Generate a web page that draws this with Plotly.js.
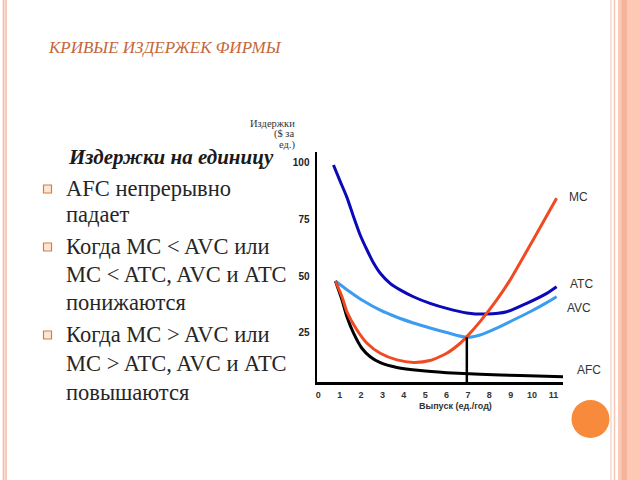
<!DOCTYPE html>
<html>
<head>
<meta charset="utf-8">
<script src="https://cdn.plot.ly/plotly-3.0.1.min.js"></script>
<style>html,body{margin:0;padding:0;background:#fff;}#chart{width:640px;height:480px;}</style>
</head>
<body>
<div id="chart"></div>
<script>
// ---- data ----
const atcX = [0.71, 1.03, 1.34, 1.65, 1.96, 2.28, 2.58, 2.90, 3.36, 3.83, 4.45, 5.23, 6.01, 6.95, 7.88, 8.82, 9.75, 10.69, 11.15];
const atcY = [98.7, 91.4, 84.5, 76.0, 68.0, 61.4, 55.8, 51.2, 46.8, 43.9, 40.9, 38.0, 35.8, 33.8, 33.3, 34.3, 38.0, 42.4, 45.3];

const avcX = [0.8, 1.34, 2.12, 2.90, 3.68, 4.45, 5.23, 6.01, 6.95, 7.57, 8.35, 9.13, 9.91, 10.69, 11.15];
const avcY = [47.8, 44.0, 39.0, 35.0, 31.9, 29.4, 27.2, 25.2, 23.1, 24.1, 27.1, 30.7, 34.3, 38.3, 40.9];

const mcX = [0.8, 1.11, 1.34, 1.81, 2.28, 2.90, 3.68, 4.45, 5.23, 6.01, 6.64, 6.95, 7.57, 8.35, 8.97, 10.05, 11.15];
const mcY = [47.8, 40.9, 34.3, 26.3, 20.5, 16.1, 13.2, 12.1, 12.9, 16.1, 20.5, 23.4, 30.0, 39.5, 48.2, 65.8, 84.1];

const afcX = [0.8, 1.11, 1.34, 1.65, 2.04, 2.43, 2.90, 3.68, 4.77, 6.01, 7.57, 9.44, 11.46];
const afcY = [47.8, 39.5, 32.1, 24.9, 18.3, 14.6, 12.0, 9.9, 8.5, 7.6, 6.9, 6.3, 5.8];

const dropX = [6.95, 6.95];
const dropY = [23.1, 3.5];

const xTickVals = [0, 1, 2, 3, 4, 5, 6, 7, 8, 9, 10, 11];
const xTickText = ['0', '1', '2', '3', '4', '5', '6', '7', '8', '9', '10', '11'];
const yTickVals = [25, 50, 75, 100];
const yTickText = ['25', '50', '75', '100'];

const seriesNames = ['MC', 'ATC', 'AVC', 'AFC'];

const slideTitle = 'КРИВЫЕ ИЗДЕРЖЕК ФИРМЫ';
const heading = 'Издержки на единицу';
const bulletLines = [
  ['AFC непрерывно', 'падает'],
  ['Когда MC &lt; AVC или', 'MC &lt; ATC, AVC и ATC', 'понижаются'],
  ['Когда MC &gt; AVC или', 'MC &gt; ATC, AVC и ATC', 'повышаются']
];
const yTitleLines = ['Издержки', '($ за', 'ед.)'];
const xTitle = 'Выпуск (ед./год)';

// ---- layout helpers (pixel -> paper) ----
const L = 317, R = 563, T = 152, B = 382;
const px = p => (p - L) / (R - L);
const py = p => (B - p) / (B - T);
const SERIF = '"Liberation Serif", "Times New Roman", "DejaVu Serif", serif';
const SANS = '"Liberation Sans", Arial, sans-serif';

const lineW = 3;
const sp = {shape: 'spline', smoothing: 0.6};
const traces = [
  {x: atcX, y: atcY, mode: 'lines', line: Object.assign({color: '#0a0ab8', width: lineW}, sp), hoverinfo: 'skip'},
  {x: avcX, y: avcY, mode: 'lines', line: Object.assign({color: '#3b9cf0', width: lineW}, sp), hoverinfo: 'skip'},
  {x: afcX, y: afcY, mode: 'lines', line: Object.assign({color: '#000000', width: lineW}, sp), hoverinfo: 'skip'},
  {x: mcX, y: mcY, mode: 'lines', line: Object.assign({color: '#f04a22', width: lineW}, sp), hoverinfo: 'skip'},
  {x: dropX, y: dropY, mode: 'lines', line: {color: '#000000', width: 2.5}, hoverinfo: 'skip'}
];

const annotations = [];
function addText(text, x, y, opts) {
  annotations.push(Object.assign({
    text: text, x: px(x), y: py(y), xref: 'paper', yref: 'paper',
    showarrow: false, xanchor: 'left', yanchor: 'middle'
  }, opts));
}

addText('<i>' + slideTitle + '</i>', 46, 48, {font: {family: SERIF, size: 17, color: '#c4683a'}});
addText('<b><i>' + heading + '</i></b>', 171, 157, {xanchor: 'center', font: {family: SERIF, size: 21, color: '#1a1a1a'}});

const lineYs = [[188, 214], [246, 274, 302], [334, 363, 392]];
const bulletRects = [];
bulletLines.forEach((grp, gi) => {
  grp.forEach((t, li) => {
    addText(t, 64, lineYs[gi][li], {font: {family: SERIF, size: 22.5, color: '#262626'}});
  });
  const cy = lineYs[gi][0] + 1;
  bulletRects.push({type: 'rect', xref: 'paper', yref: 'paper', x0: px(43.5), x1: px(51.5), y0: py(cy + 4), y1: py(cy - 4),
    line: {color: '#e07b39', width: 1.2}, fillcolor: '#fde6d4'});
});

yTitleLines.forEach((t, i) => {
  addText(t, 297, [123, 134, 145][i], {xanchor: 'right', font: {family: SERIF, size: 10.5, color: '#333'}});
});
addText(xTitle, 455, 406, {xanchor: 'center', font: {family: SANS, size: 9, color: '#333', weight: 'bold'}});

const labelPos = [[567, 197], [568, 284], [565, 308], [575, 370]];
seriesNames.forEach((n, i) => {
  addText(n, labelPos[i][0], labelPos[i][1], {font: {family: SANS, size: 12, color: '#333'}});
});

const shapes = [
  // left slide border
  {type: 'rect', xref: 'paper', yref: 'paper', x0: px(2.5), x1: px(7), y0: py(480), y1: py(0), line: {width: 0}, fillcolor: '#fce4da'},
  {type: 'line', xref: 'paper', yref: 'paper', x0: px(3.5), x1: px(3.5), y0: py(480), y1: py(0), line: {color: '#f5bba6', width: 1.2}},
  {type: 'line', xref: 'paper', yref: 'paper', x0: px(6), x1: px(6), y0: py(480), y1: py(0), line: {color: '#f5bba6', width: 1.2}},
  // right slide border
  {type: 'line', xref: 'paper', yref: 'paper', x0: px(611), x1: px(611), y0: py(480), y1: py(0), line: {color: '#f8d6ca', width: 1.5}},
  {type: 'line', xref: 'paper', yref: 'paper', x0: px(614.5), x1: px(614.5), y0: py(480), y1: py(0), line: {color: '#f5c6b5', width: 1.5}},
  {type: 'rect', xref: 'paper', yref: 'paper', x0: px(618), x1: px(641), y0: py(480), y1: py(0), line: {width: 0}, fillcolor: '#fdc9b5'},
  {type: 'rect', xref: 'paper', yref: 'paper', x0: px(621.5), x1: px(627), y0: py(480), y1: py(0), line: {width: 0}, fillcolor: '#f4b49b'},
  // orange circle
  {type: 'circle', xref: 'paper', yref: 'paper', x0: px(571.5), x1: px(609.5), y0: py(438), y1: py(400), line: {width: 0}, fillcolor: '#f78a3b'}
].concat(bulletRects);

const layout = {
  width: 640, height: 480,
  margin: {l: L, r: 640 - R, t: T, b: 480 - B, pad: 0},
  paper_bgcolor: '#ffffff', plot_bgcolor: '#ffffff',
  showlegend: false,
  xaxis: {
    range: [-0.06, 11.45], showgrid: false, zeroline: false,
    showline: true, linecolor: '#000', linewidth: 2.5,
    tickvals: xTickVals, ticktext: xTickText, ticks: '',
    tickfont: {family: SANS, size: 9, color: '#333', weight: 'bold'},
    ticklabelstandoff: 3, fixedrange: true
  },
  yaxis: {
    range: [3.5, 104.4], showgrid: false, zeroline: false,
    showline: true, linecolor: '#000', linewidth: 2.5,
    tickvals: yTickVals, ticktext: yTickText, ticks: '',
    tickfont: {family: SANS, size: 10, color: '#222', weight: 'bold'},
    ticklabelstandoff: 3, fixedrange: true
  },
  annotations: annotations,
  shapes: shapes
};

Plotly.newPlot('chart', traces, layout, {staticPlot: true, displayModeBar: false});
</script>
</body>
</html>
